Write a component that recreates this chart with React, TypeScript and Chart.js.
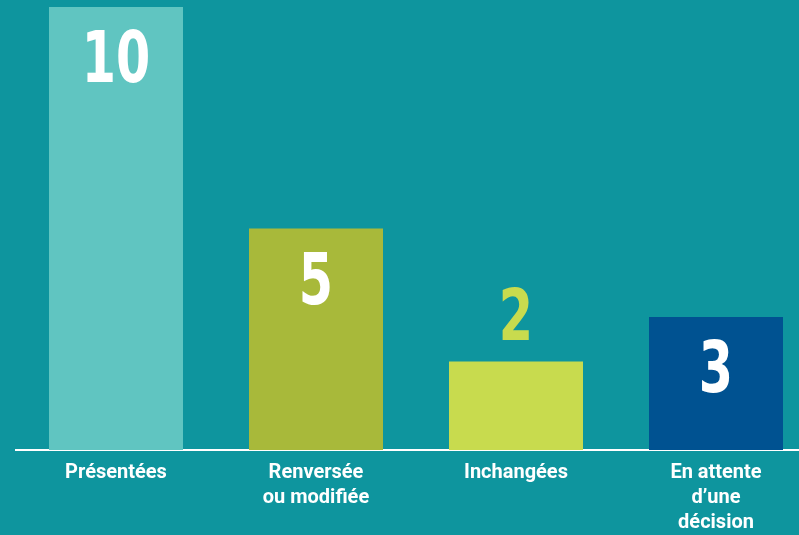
import React, { useEffect, useRef } from "react";
import { Chart, registerables } from "chart.js";

Chart.register(...registerables);

const categories: (string | string[])[] = [
  "Présentées",
  ["Renversée", "ou modifiée"],
  "Inchangées",
  ["En attente", "d’une", "décision"],
];
const values: number[] = [10, 5, 2, 3];
const barColors: string[] = ["#60c5c1", "#a8b93a", "#c8db4e", "#005291"];
const labelColors: string[] = ["#ffffff", "#ffffff", "#c8db4e", "#ffffff"];
const labelInside: boolean[] = [true, true, false, true];

const BG = "#0e959e";

const valueLabels = {
  id: "valueLabels",
  afterDatasetsDraw(chart: any) {
    const ctx = chart.ctx;
    const meta = chart.getDatasetMeta(0);
    ctx.save();
    ctx.font = 'bold 72px "Liberation Sans Narrow", "DejaVu Sans Condensed", "Roboto Condensed", sans-serif';
    ctx.textAlign = "center";
    ctx.textBaseline = "alphabetic";
    meta.data.forEach((bar: any, i: number) => {
      const x = bar.x;
      const top = bar.y;
      ctx.fillStyle = labelColors[i];
      const baseY = labelInside[i] ? top + 75 : top - 21;
      ctx.save();
      ctx.translate(x, baseY);
      ctx.scale(0.76, 1);
      ctx.fillText(String(values[i]), 0, 0);
      ctx.restore();
    });
    ctx.restore();
  },
};

export default function App() {
  const ref = useRef<HTMLCanvasElement | null>(null);
  useEffect(() => {
    if (!ref.current) return;
    const chart = new Chart(ref.current, {
      type: "bar",
      data: {
        labels: categories,
        datasets: [
          {
            data: values,
            backgroundColor: barColors,
            borderWidth: 0,
            barPercentage: 0.67,
            categoryPercentage: 1,
          },
        ],
      },
      options: {
        responsive: false,
        animation: false,
        layout: { padding: { left: 16, right: 14, top: 7, bottom: 0 } },
        plugins: { legend: { display: false }, tooltip: { enabled: false } },
        scales: {
          x: {
            grid: { display: false },
            border: { display: true, color: "#ffffff", width: 2 },
            ticks: {
              color: "#ffffff",
              padding: 2,
              font: { family: "Roboto", size: 20, weight: "bold", lineHeight: 1.25 },
            },
            afterFit: (scale: any) => {
              scale.height = 85;
            },
          },
          y: {
            display: false,
            min: 0,
            max: 10,
          },
        },
      },
      plugins: [valueLabels],
    });
    return () => chart.destroy();
  }, []);
  return (
    <div
      style={{
        position: "fixed",
        left: 0,
        top: 0,
        width: 799,
        height: 535,
        overflow: "hidden",
        background: BG,
      }}
    >
      <canvas ref={ref} width={830} height={535} style={{ display: "block" }} />
    </div>
  );
}
